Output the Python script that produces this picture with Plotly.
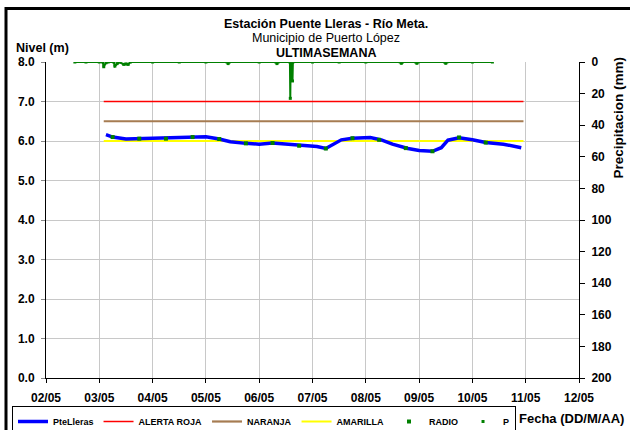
import plotly.graph_objects as go

# ---------------- data ----------------
level_dates = [
    "2010-05-03 03:00", "2010-05-03 06:00", "2010-05-03 12:00", "2010-05-03 18:00",
    "2010-05-04 00:00", "2010-05-04 06:00", "2010-05-04 12:00", "2010-05-04 18:00",
    "2010-05-05 00:00", "2010-05-05 06:00", "2010-05-05 11:00", "2010-05-05 18:00",
    "2010-05-06 00:00", "2010-05-06 06:00", "2010-05-06 12:00", "2010-05-06 18:00",
    "2010-05-07 02:00", "2010-05-07 06:00", "2010-05-07 08:00", "2010-05-07 13:00",
    "2010-05-07 18:00", "2010-05-08 02:00", "2010-05-08 07:00", "2010-05-08 12:00",
    "2010-05-08 19:00", "2010-05-09 00:00", "2010-05-09 06:00", "2010-05-09 10:00",
    "2010-05-09 13:00", "2010-05-09 18:00", "2010-05-10 00:00", "2010-05-10 06:00",
    "2010-05-10 14:00", "2010-05-10 22:00",
]
level_values = [
    6.16, 6.10, 6.05, 6.06,
    6.07, 6.06, 6.07, 6.10,
    6.11, 6.05, 5.98, 5.94,
    5.92, 5.95, 5.92, 5.88,
    5.86, 5.81, 5.87, 6.03,
    6.07, 6.09, 6.03, 5.92,
    5.81, 5.76, 5.74, 5.83,
    6.02, 6.08, 6.03, 5.96,
    5.92, 5.83,
]

radio_dates = [
    "2010-05-03 06:00", "2010-05-03 18:00", "2010-05-04 06:00", "2010-05-04 18:00",
    "2010-05-05 06:00", "2010-05-05 18:00", "2010-05-06 06:00", "2010-05-06 18:00",
    "2010-05-07 06:00", "2010-05-07 18:00", "2010-05-08 06:00", "2010-05-08 18:00",
    "2010-05-09 06:00", "2010-05-09 18:00", "2010-05-10 06:00",
]
radio_values = [
    6.10, 6.06, 6.06, 6.10,
    6.05, 5.94, 5.95, 5.88,
    5.81, 6.07, 6.03, 5.82,
    5.74, 6.09, 5.96,
]

threshold_dates = ["2010-05-03 02:00", "2010-05-10 23:00"]
alerta_roja = [7.0, 7.0]
naranja = [6.5, 6.5]
amarilla = [6.0, 6.0]

p_dates = [
    "2010-05-02 13:00", "2010-05-02 18:00", "2010-05-03 00:00", "2010-05-03 01:30",
    "2010-05-03 02:00", "2010-05-03 03:00", "2010-05-03 04:00", "2010-05-03 06:30",
    "2010-05-03 07:00", "2010-05-03 08:00", "2010-05-03 09:00", "2010-05-03 11:00",
    "2010-05-03 12:00", "2010-05-03 13:00", "2010-05-03 14:00", "2010-05-04 00:00",
    "2010-05-04 12:00", "2010-05-05 00:00", "2010-05-05 09:30", "2010-05-05 10:00",
    "2010-05-05 10:30", "2010-05-06 00:00", "2010-05-06 07:30", "2010-05-06 08:00",
    "2010-05-06 08:30", "2010-05-06 13:50", "2010-05-06 14:00", "2010-05-06 14:10",
    "2010-05-06 14:50", "2010-05-06 15:00", "2010-05-06 15:10", "2010-05-07 00:00",
    "2010-05-07 12:00", "2010-05-08 00:00", "2010-05-08 15:30", "2010-05-08 16:00",
    "2010-05-08 16:30", "2010-05-08 22:30", "2010-05-08 23:00", "2010-05-08 23:30",
    "2010-05-09 11:30", "2010-05-09 12:00", "2010-05-09 12:30", "2010-05-10 00:00",
    "2010-05-10 09:00",
]
p_values = [
    0, 0, 0, 0,
    3.0, 0.5, 0, 0,
    2.6, 1.0, 0, 1.5,
    1.2, 1.5, 0, 0,
    0, 0, 0, 1.0,
    0, 0, 0, 1.0,
    0, 0, 23.0, 0,
    0, 12.0, 0, 0,
    0, 0, 0, 0.8,
    0, 0, 0.8, 0,
    0, 0.8, 0, 0,
    0,
]

x_tick_dates = ["2010-05-%02d" % d for d in range(2, 13)]
x_tick_labels = ["%02d/05" % d for d in range(2, 13)]

# ---------------- figure ----------------
FONT = "Liberation Sans, Arial, sans-serif"
GREEN = "#008000"

fig = go.Figure()

fig.add_trace(go.Scatter(x=threshold_dates, y=alerta_roja, mode="lines", name="ALERTA ROJA",
                         line=dict(color="#FF0000", width=1.5), legendrank=2))
fig.add_trace(go.Scatter(x=threshold_dates, y=naranja, mode="lines", name="NARANJA",
                         line=dict(color="#A67C52", width=2.2), legendrank=3))
fig.add_trace(go.Scatter(x=threshold_dates, y=amarilla, mode="lines", name="AMARILLA",
                         line=dict(color="#FFFF00", width=2), legendrank=4))
fig.add_trace(go.Scatter(x=level_dates, y=level_values, mode="lines", name="PteLleras",
                         line=dict(color="#0000FF", width=3.5), legendrank=1))
fig.add_trace(go.Scatter(x=radio_dates, y=radio_values, mode="markers", name="RADIO",
                         marker=dict(color=GREEN, size=4, symbol="square"), legendrank=5))
fig.add_trace(go.Scatter(x=p_dates, y=p_values, mode="lines", name="P", yaxis="y2",
                         line=dict(color=GREEN, width=2), showlegend=False))
fig.add_trace(go.Scatter(x=p_dates, y=p_values, mode="markers", name="P", yaxis="y2",
                         marker=dict(color=GREEN, size=3, symbol="square"), legendrank=6))

L, R, T, B = 46, 51, 62, 52
W, H = 630, 430
pw, ph = W - L - R, H - T - B

def px(x):
    return (x - L) / pw

def py(y):
    return (H - B - y) / ph

tickfont = dict(family=FONT, size=12, color="black", weight="bold")

fig.update_layout(
    width=W, height=H,
    margin=dict(l=L, r=R, t=T, b=B, pad=0, autoexpand=False),
    paper_bgcolor="white", plot_bgcolor="white",
    font=dict(family=FONT, color="black"),
    xaxis=dict(
        type="date", range=["2010-05-02", "2010-05-12"],
        tickvals=x_tick_dates, ticktext=x_tick_labels,
        showgrid=True, gridcolor="#C8C8C8", gridwidth=1,
        showline=True, linecolor="black", linewidth=1,
        ticks="outside", ticklen=4, tickcolor="black",
        tickfont=tickfont, zeroline=False, automargin=False,
        ticklabelstandoff=5,
    ),
    yaxis=dict(
        range=[0, 8], dtick=1, tickformat=".1f",
        showgrid=True, gridcolor="#C8C8C8", gridwidth=1,
        showline=True, linecolor="black", linewidth=1,
        ticks="outside", ticklen=4, tickcolor="#888888",
        tickfont=tickfont, zeroline=False, automargin=False,
        ticklabelstandoff=4,
    ),
    yaxis2=dict(
        overlaying="y", side="right", range=[200, 0], dtick=20,
        showgrid=False, showline=True, linecolor="black", linewidth=1,
        ticks="outside", ticklen=5, tickcolor="black",
        tickfont=tickfont, zeroline=False, automargin=False,
        ticklabelstandoff=4,
    ),
    legend=dict(
        orientation="h", xref="container", yref="container",
        x=12 / W, y=1 - 406 / H, xanchor="left", yanchor="top",
        bordercolor="black", borderwidth=1, bgcolor="white",
        font=dict(family=FONT, size=9, color="black", weight="bold"),
        traceorder="normal", itemwidth=30, tracegroupgap=0,
    ),
    showlegend=True,
)

ann = [
    dict(text="Estación Puente Lleras - Río Meta.", x=px(326), y=py(23.5), size=12.5, weight="bold"),
    dict(text="Municipio de Puerto López", x=px(326), y=py(37.5), size=12.5, weight="normal"),
    dict(text="ULTIMASEMANA", x=px(326), y=py(52.5), size=12.5, weight="bold"),
]
for a in ann:
    fig.add_annotation(text=a["text"], x=a["x"], y=a["y"], xref="paper", yref="paper",
                       xanchor="center", yanchor="middle", showarrow=False,
                       font=dict(family=FONT, size=a["size"], color="black", weight=a["weight"]))

fig.add_annotation(text="Nivel (m)", x=px(14), y=py(48), xref="paper", yref="paper",
                   xanchor="left", yanchor="middle", showarrow=False,
                   font=dict(family=FONT, size=12.5, color="black", weight="bold"))
fig.add_annotation(text="Fecha (DD/M/AA)", x=px(626), y=py(418), xref="paper", yref="paper",
                   xanchor="right", yanchor="middle", showarrow=False,
                   font=dict(family=FONT, size=13, color="black", weight="bold"))
fig.add_annotation(text="Precipitacion (mm)", x=px(618.5), y=py(118), xref="paper", yref="paper",
                   xanchor="center", yanchor="middle", showarrow=False, textangle=-90,
                   font=dict(family=FONT, size=13.5, color="black", weight="bold"))

# outer frame (cropped at right/bottom in the reference): left and top edges
fig.add_shape(type="line", xref="paper", yref="paper",
              x0=px(6), x1=px(6), y0=py(435), y1=py(7),
              line=dict(color="black", width=3), layer="above")
fig.add_shape(type="line", xref="paper", yref="paper",
              x0=px(5), x1=px(635), y0=py(8.5), y1=py(8.5),
              line=dict(color="black", width=3), layer="above")

fig.write_html("out.html",
               config={"displayModeBar": False},
               post_script="document.body.style.margin='0';document.body.style.overflow='hidden';")
